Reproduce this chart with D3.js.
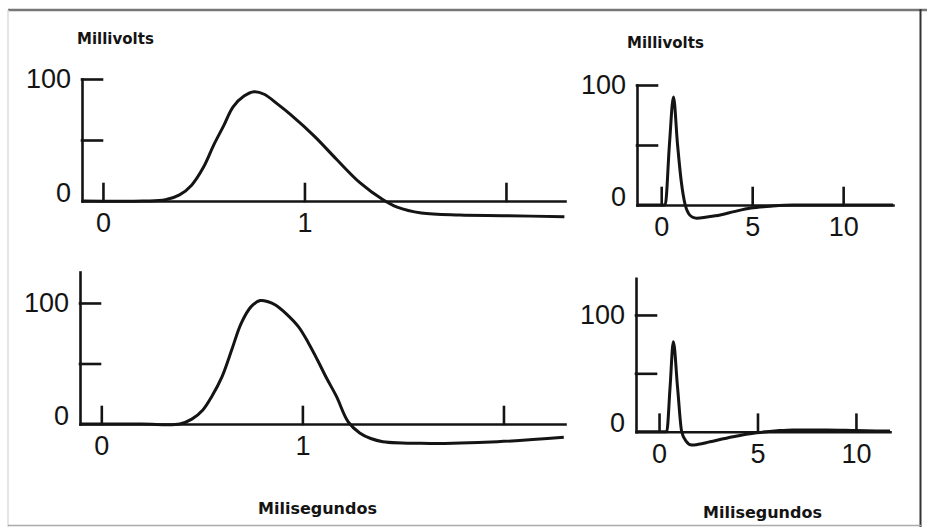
<!DOCTYPE html>
<html><head><meta charset="utf-8">
<script src="https://cdn.jsdelivr.net/npm/d3@7"></script>
<style>body{margin:0;background:#fff} svg{display:block}</style>
</head><body>
<svg id="c" width="927" height="527"></svg>
<script>
// ---- data (time in ms, potential in mV) ----
const tTopLeft = [-0.10, 0.20, 0.31, 0.38, 0.44, 0.50, 0.55, 0.60, 0.645, 0.70, 0.75, 0.80, 0.87, 0.93, 1.05, 1.16, 1.275, 1.39, 1.46, 1.58, 1.77, 2.00, 2.29];
const vTopLeft = [0, 0, 1, 5, 13, 28, 46, 62, 77, 86, 89.5, 87.5, 79, 71, 53, 34, 15, 1, -5, -9.8, -11.5, -12, -13];

const tBottomLeft = [-0.105, 0.2, 0.39, 0.45, 0.505, 0.55, 0.6, 0.65, 0.695, 0.745, 0.79, 0.83, 0.866, 0.92, 0.98, 1.03, 1.075, 1.12, 1.17, 1.227, 1.285, 1.34, 1.40, 1.59, 1.97, 2.30];
const vBottomLeft = [0, 0, 0, 4, 11.6, 23, 39, 62, 83, 97, 102, 101, 98.3, 91, 80.4, 67, 52.9, 38, 22.6, 2, -7.4, -12, -14.6, -16, -14.6, -11];

const tTopRight = [-1.33, 0.0, 0.22, 0.455, 0.675, 0.894, 1.1, 1.32, 1.5, 1.7, 1.96, 2.5, 3.24, 4.0, 4.93, 6.0, 7.25, 9, 12.74];
const vTopRight = [0, 0, 0, 51, 90, 51, 20, 0, -7, -10, -11, -10, -8.3, -5.5, -2.5, -1, 0, 0, 0];

const tBottomRight = [-1.17, 0.0, 0.39, 0.56, 0.726, 0.94, 1.15, 1.37, 1.66, 2.0, 2.59, 3.76, 4.96, 6.0, 6.8, 8.5, 10.0, 11.73];
const vBottomRight = [0, 0, 0, 38, 77, 38, 0, -8, -11.4, -10.8, -8.6, -4.3, -0.9, 0.8, 1.5, 1.5, 1, 0.5];

const yTickValues = [50, 100];
const yLabelValues = [0, 100];
const xTicksLeft = [0, 1, 2];
const xLabelsLeft = [0, 1];
const xTicksRight = [0, 5, 10];
const xLabelsRight = [0, 5, 10];
const yTitle = "Millivolts";
const xTitle = "Milisegundos";

// ---- layout ----
const panels = [
  {t: tTopLeft, v: vTopLeft, xDom: [-0.104, 2.293], xR: [82, 565], yDom: [0, 100], yR: [201, 79], ticks: xTicksLeft, labels: xLabelsLeft, curve: d3.curveCatmullRom.alpha(0.5)},
  {t: tBottomLeft, v: vBottomLeft, xDom: [-0.106, 2.306], xR: [80, 565], yDom: [0, 125.6], yR: [424, 272], ticks: xTicksLeft, labels: xLabelsLeft, curve: d3.curveCatmullRom.alpha(0.5)},
  {t: tTopRight, v: vTopRight, xDom: [-1.33, 12.74], xR: [637, 893], yDom: [0, 100], yR: [205, 85], ticks: xTicksRight, labels: xLabelsRight, curve: d3.curveMonotoneX},
  {t: tBottomRight, v: vBottomRight, xDom: [-1.17, 11.73], xR: [636, 890], yDom: [0, 131.4], yR: [431.7, 278.3], ticks: xTicksRight, labels: xLabelsRight, curve: d3.curveMonotoneX}
];

const svg = d3.select("#c");
const ink = "#141414";
const numFont = "'Liberation Sans', Arial, sans-serif";
const titleFont = "'DejaVu Sans', sans-serif";

// frame from the scanned page
svg.append("line").attr("x1", 8).attr("x2", 927).attr("y1", 10).attr("y2", 10).attr("stroke", "#777").attr("stroke-width", 2.5);
svg.append("line").attr("x1", 920.5).attr("x2", 920.5).attr("y1", 9).attr("y2", 527).attr("stroke", "#333").attr("stroke-width", 2);
svg.append("line").attr("x1", 8).attr("x2", 8).attr("y1", 10).attr("y2", 527).attr("stroke", "#ddd").attr("stroke-width", 1.5);
svg.append("line").attr("x1", 8).attr("x2", 921).attr("y1", 525.5).attr("y2", 525.5).attr("stroke", "#aaa").attr("stroke-width", 1.5);

panels.forEach(p => {
  const x = d3.scaleLinear().domain(p.xDom).range(p.xR);
  const y = d3.scaleLinear().domain(p.yDom).range(p.yR);
  const g = svg.append("g");

  // y axis (ticks pointing inward)
  const ya = g.append("g").attr("transform", `translate(${p.xR[0]},0)`)
    .call(d3.axisRight(y).tickValues(yTickValues).tickSize(20).tickSizeOuter(0).tickFormat(""));
  // x axis (ticks pointing up)
  const xa = g.append("g").attr("transform", `translate(0,${y(0)})`)
    .call(d3.axisTop(x).tickValues(p.ticks).tickSize(17).tickSizeOuter(0).tickFormat(""));
  [ya, xa].forEach(a => {
    a.selectAll("path,line").attr("stroke", ink).attr("stroke-width", 2.6).attr("stroke-linecap", "square");
  });

  // x labels
  const xl = g.append("g").attr("transform", `translate(0,${y(0)})`)
    .call(d3.axisBottom(x).tickValues(p.labels).tickSize(0).tickPadding(12).tickFormat(d3.format("d")));
  xl.select(".domain").remove();
  xl.selectAll("text").attr("font-family", numFont).attr("font-size", 27).attr("fill", ink);

  // y labels
  const yl = g.append("g").attr("transform", `translate(${p.xR[0]},0)`)
    .call(d3.axisLeft(y).tickValues(yLabelValues).tickSize(0).tickPadding(11).tickFormat(d3.format("d")));
  yl.select(".domain").remove();
  yl.selectAll("text").attr("font-family", numFont).attr("font-size", 27).attr("fill", ink)
    .attr("dy", d => d === 0 ? "0.0em" : "0.32em");

  // curve
  const pts = p.t.map((t, i) => [t, p.v[i]]);
  g.append("path").datum(pts)
    .attr("fill", "none").attr("stroke", ink).attr("stroke-width", 3).attr("stroke-linejoin", "round")
    .attr("d", d3.line().x(d => x(d[0])).y(d => y(d[1])).curve(p.curve));
});

// titles
const titles = [
  {txt: yTitle, x: 77, y: 44, size: 15},
  {txt: yTitle, x: 627, y: 48, size: 15},
  {txt: xTitle, x: 258, y: 514, size: 16},
  {txt: xTitle, x: 703, y: 518, size: 16}
];
svg.selectAll("text.title").data(titles).join("text").attr("class", "title")
  .attr("x", d => d.x).attr("y", d => d.y).attr("font-family", titleFont).attr("font-weight", "bold")
  .attr("font-size", d => d.size).attr("fill", ink).text(d => d.txt);
</script>
</body></html>
